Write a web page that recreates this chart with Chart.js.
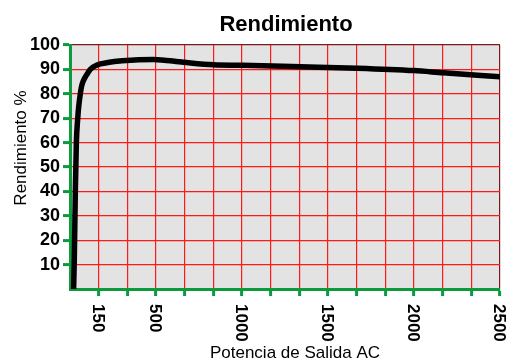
<!DOCTYPE html>
<html>
<head>
<meta charset="utf-8">
<script src="https://cdn.jsdelivr.net/npm/chart.js@4/dist/chart.umd.min.js"></script>
<style>
  html, body { margin: 0; padding: 0; background: #fff; }
  #wrap { width: 510px; height: 363px; position: relative; }
</style>
</head>
<body>
<div id="wrap"><canvas id="effChart"></canvas></div>
<script>
// Data
const powerW = [21, 25, 31, 37, 45, 51, 60, 67, 76, 90, 99, 108, 118, 157, 220, 303, 485, 660, 834, 1000, 1340, 1670, 2000, 2170, 2500];
const efficiency = [0, 12, 40, 60, 70, 75, 80, 83, 85, 87, 88, 89, 90, 91.8, 92.8, 93.5, 94.1, 92.9, 91.9, 91.7, 91.1, 90.5, 89.5, 88.6, 87.0];

// 15 equal grid steps between 0 and 2500, only some of them labelled
const xGridCount = 15;
const xMax = 2500;
const xLabelIndex = [1, 3, 6, 9, 12, 15];
const xLabels = ['150', '500', '1000', '1500', '2000', '2500'];
const yTicks = [10, 20, 30, 40, 50, 60, 70, 80, 90, 100];

const chartTitle = 'Rendimiento';
const xTitle = 'Potencia de Salida AC';
const yTitle = 'Rendimiento %';

const GREEN = '#0b9a3c';
const RED = '#ff1a1a';
const MAROON = '#7a1a1a';
const FONT = '"Liberation Sans", Arial, sans-serif';

const xGridValues = [];
for (let i = 0; i <= xGridCount; i++) xGridValues.push(i * xMax / xGridCount);

// plot background + hand placed texts
const decor = {
    id: 'decor',
    beforeDraw(chart) {
        const a = chart.chartArea;
        const ctx = chart.ctx;
        ctx.save();
        ctx.fillStyle = '#e3e3e3';
        ctx.fillRect(a.left, a.top, a.right - a.left, a.bottom - a.top);
        ctx.restore();
    },
    afterDraw(chart) {
        const ctx = chart.ctx;
        const xs = chart.scales.x;
        ctx.save();
        ctx.fillStyle = '#000';

        // title
        ctx.font = 'bold 22px ' + FONT;
        ctx.textAlign = 'center';
        ctx.textBaseline = 'alphabetic';
        ctx.fillText(chartTitle, 286, 31);

        // x title
        ctx.font = '17px ' + FONT;
        ctx.fillText(xTitle, 295, 358);

        // y title (reads upward)
        ctx.save();
        ctx.translate(26, 148);
        ctx.rotate(-Math.PI / 2);
        ctx.font = '17px ' + FONT;
        ctx.textAlign = 'center';
        ctx.fillText(yTitle, 0, 0);
        ctx.restore();

        // x tick labels, rotated clockwise
        ctx.font = 'bold 17px ' + FONT;
        xLabelIndex.forEach((idx, i) => {
            const px = xs.getPixelForValue(xGridValues[idx]);
            ctx.save();
            ctx.translate(px, 304);
            ctx.rotate(Math.PI / 2);
            ctx.textAlign = 'left';
            ctx.textBaseline = 'middle';
            ctx.fillText(xLabels[i], 0, 1);
            ctx.restore();
        });
        ctx.restore();
    }
};

const ctx = document.getElementById('effChart').getContext('2d');
new Chart(ctx, {
    type: 'line',
    data: {
        datasets: [{
            data: powerW.map((p, i) => ({ x: p, y: efficiency[i] })),
            borderColor: '#000',
            borderWidth: 5.5,
            pointRadius: 0,
            fill: false,
            cubicInterpolationMode: 'monotone'
        }]
    },
    options: {
        responsive: true,
        maintainAspectRatio: false,
        animation: false,
        layout: { padding: { top: 45, right: 10, left: 0, bottom: 0 } },
        plugins: {
            legend: { display: false },
            title: { display: false },
            tooltip: { enabled: false }
        },
        scales: {
            x: {
                type: 'linear',
                min: 0,
                max: xMax,
                afterBuildTicks: s => { s.ticks = xGridValues.map(v => ({ value: v })); },
                afterFit: s => { s.height = 74; },
                ticks: { display: false },
                grid: {
                    color: c => c.index === xGridCount ? MAROON : RED,
                    lineWidth: 1.2,
                    tickColor: c => c.index === 0 ? 'transparent' : GREEN,
                    tickLength: 7,
                    tickWidth: 3
                },
                border: { color: GREEN, width: 3 }
            },
            y: {
                min: 0,
                max: 100,
                afterBuildTicks: s => { s.ticks = [0].concat(yTicks).map(v => ({ value: v })); },
                afterFit: s => { s.width = 70; },
                ticks: {
                    color: '#000',
                    padding: 3,
                    autoSkip: false,
                    font: { family: FONT, size: 18, weight: 'bold' },
                    callback: v => v === 0 ? '' : v
                },
                grid: {
                    color: c => c.tick && c.tick.value === 100 ? MAROON : RED,
                    lineWidth: 1.2,
                    tickColor: c => c.tick && c.tick.value === 0 ? 'transparent' : GREEN,
                    tickLength: 7,
                    tickWidth: 3
                },
                border: { color: GREEN, width: 3 }
            }
        }
    },
    plugins: [decor]
});
</script>
</body>
</html>
